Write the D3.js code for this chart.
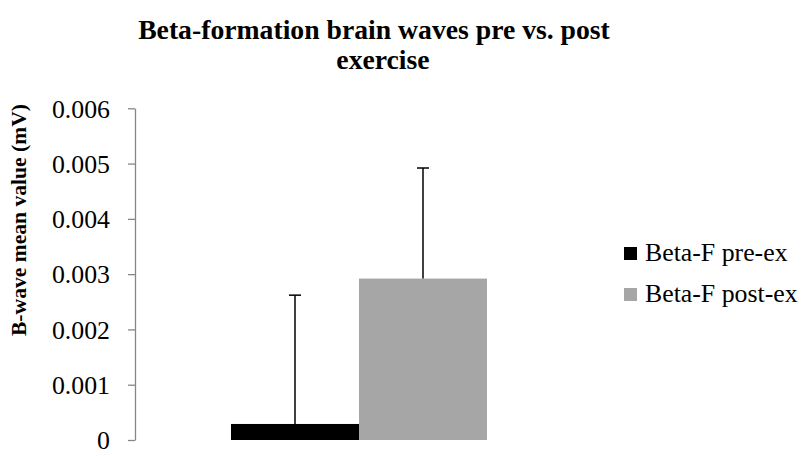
<!DOCTYPE html>
<html>
<head>
<meta charset="utf-8">
<script src="https://cdn.jsdelivr.net/npm/d3@7"></script>
<style>
  html, body { margin: 0; padding: 0; background: #fff; }
  svg { display: block; }
  svg text { font-family: "Times New Roman", Times, "Liberation Serif", "DejaVu Serif", serif !important; fill: #000; }
</style>
</head>
<body>
<svg id="chart" width="805" height="456"></svg>
<script>
const categories = [""];
const seriesNames = ["Beta-F pre-ex", "Beta-F post-ex"];
const seriesColors = ["#000000", "#a6a6a6"];
const seriesValues = [0.00029, 0.00292];
const seriesErrors = [0.00233, 0.00200];
const yTicks = [0, 0.001, 0.002, 0.003, 0.004, 0.005, 0.006];
const yTickLabels = ["0", "0.001", "0.002", "0.003", "0.004", "0.005", "0.006"];

const svg = d3.select("#chart");
const plot = { left: 135, right: 583, top: 108.3, bottom: 440 };

const y = d3.scaleLinear().domain([0, 0.006]).range([plot.bottom, plot.top]);
const x0 = d3.scaleBand().domain(categories).range([plot.left, plot.right])
  .paddingInner(0).paddingOuter(0.375);
const x1 = d3.scaleBand().domain(seriesNames).range([0, x0.bandwidth()]).padding(0);

// Title
const title = svg.append("g").attr("font-size", 27.7);
title.append("text").attr("x", 374).attr("y", 39).attr("text-anchor", "middle")
  .style("font-weight", "bold").text("Beta-formation brain waves pre vs. post");
title.append("text").attr("x", 383).attr("y", 69).attr("text-anchor", "middle")
  .style("font-weight", "bold").text("exercise");

// Y axis
const yAxis = d3.axisLeft(y).tickValues(yTicks)
  .tickFormat((d, i) => yTickLabels[i]).tickSize(7).tickSizeOuter(0).tickPadding(18);
const gy = svg.append("g").attr("transform", `translate(${plot.left},0)`).call(yAxis);
gy.attr("font-family", null);
gy.select(".domain").attr("stroke", "#868686").attr("stroke-width", 1.3);
gy.selectAll(".tick line").attr("stroke", "#868686").attr("stroke-width", 1.3);
gy.selectAll(".tick text").attr("font-size", 25.8).attr("fill", "#000").attr("dy", "0.34em");

// Y axis title
svg.append("text")
  .attr("transform", "translate(26,220) rotate(-90)")
  .attr("text-anchor", "middle").attr("font-size", 21.6).style("font-weight", "bold")
  .text("B-wave mean value (mV)");

// Bars
const data = seriesNames.map((s, i) => ({ cat: categories[0], s, v: seriesValues[i], e: seriesErrors[i], c: seriesColors[i] }));
const g = svg.append("g");
g.selectAll("rect.bar").data(data).join("rect").attr("class", "bar")
  .attr("x", d => x0(d.cat) + x1(d.s))
  .attr("y", d => y(d.v))
  .attr("width", x1.bandwidth())
  .attr("height", d => y(0) - y(d.v))
  .attr("fill", d => d.c);

// Error bars (plus only)
const eb = g.selectAll("g.err").data(data).join("g").attr("class", "err");
eb.append("line")
  .attr("x1", d => x0(d.cat) + x1(d.s) + x1.bandwidth() / 2)
  .attr("x2", d => x0(d.cat) + x1(d.s) + x1.bandwidth() / 2)
  .attr("y1", d => y(d.v)).attr("y2", d => y(d.v + d.e))
  .attr("stroke", "#000").attr("stroke-width", 1.5);
eb.append("line")
  .attr("x1", d => x0(d.cat) + x1(d.s) + x1.bandwidth() / 2 - 6)
  .attr("x2", d => x0(d.cat) + x1(d.s) + x1.bandwidth() / 2 + 6)
  .attr("y1", d => y(d.v + d.e)).attr("y2", d => y(d.v + d.e))
  .attr("stroke", "#000").attr("stroke-width", 1.5);

// Legend
const legend = svg.append("g").attr("transform", "translate(624,247)");
const li = legend.selectAll("g").data(data).join("g")
  .attr("transform", (d, i) => `translate(0,${i * 41})`);
li.append("rect").attr("width", 13).attr("height", 13).attr("fill", d => d.c);
li.append("text").attr("x", 21).attr("y", 14).attr("font-size", 25.8).text(d => d.s);
</script>
</body>
</html>
